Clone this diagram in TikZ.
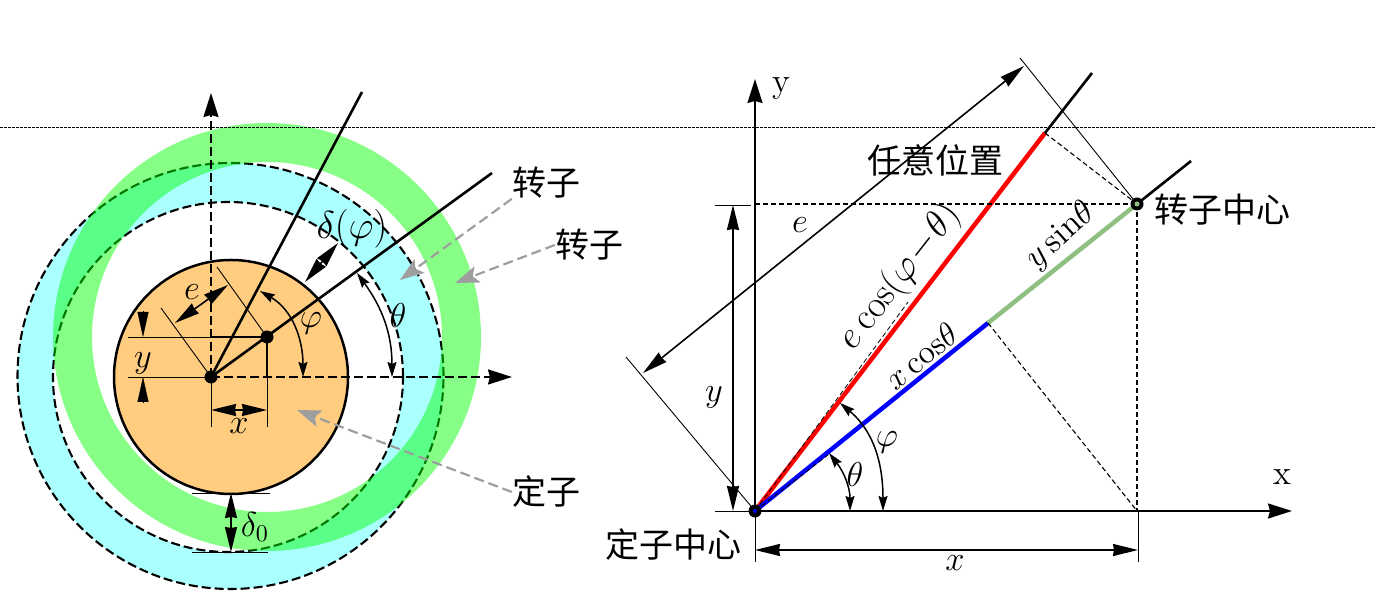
\documentclass[tikz,border=0pt]{standalone}
\usepackage{fontspec}
\usepackage{tikz}
\usetikzlibrary{arrows.meta}
\newfontfamily\cjk{Noto Sans CJK SC}
\definecolor{rotorgreen}{HTML}{90C080}
\definecolor{gapcyan}{HTML}{AAFFFF}
\definecolor{statorfill}{HTML}{FFCC80}
\tikzstyle{hanzi} = [font=\cjk\fontsize{34}{40}\selectfont, inner sep=0pt]
\tikzstyle{mathlabel} = [font=\Large, scale=2.4, inner sep=0pt]
\tikzstyle{biglabel} = [font=\LARGE, scale=2.25, inner sep=0pt]
\tikzstyle{axisline} = [line width=1.8pt, -{Stealth[length=24pt,width=15pt,inset=2pt]}]
\tikzstyle{dimline} = [line width=1.6pt, {Stealth[length=25pt,width=12pt,inset=1pt]}-{Stealth[length=25pt,width=12pt,inset=1pt]}]
\tikzstyle{anglearc} = [line width=1.5pt, {Stealth[length=15pt,width=9pt,inset=2pt]}-{Stealth[length=15pt,width=9pt,inset=2pt]}]
\tikzstyle{pointer} = [line width=2.2pt, dash pattern=on 10pt off 5pt, color=black!38, -{Stealth[length=24pt,width=17pt,inset=5pt]}]
\tikzstyle{thinline} = [line width=0.9pt]
\tikzstyle{thickline} = [line width=2.6pt]
\tikzstyle{dashcircle} = [line width=2.1pt, dash pattern=on 9pt off 4pt]
\tikzstyle{helper} = [line width=1.1pt, dash pattern=on 5pt off 3pt]
\begin{document}
\begin{tikzpicture}[x=1pt, y=1pt]
        \useasboundingbox (0,0) rectangle (1375,593);

        % left part
        \coordinate (stator)  at (231,216);
        \coordinate (outer)   at (230.5,217);
        \coordinate (inner)   at (228,216);
        \coordinate (origin1) at (211,216);
        \coordinate (rotor1)  at (267,256);

        \fill[gapcyan, even odd rule] (outer) circle (213) (inner) circle (175);
        \draw[dashcircle] (outer) circle (213);
        \draw[dashcircle] (inner) circle (175);
        \fill[green, fill opacity=0.47, even odd rule] (rotor1) circle (214) (rotor1) circle (175);
        \draw[line width=2.5pt, fill=statorfill] (stator) circle (117);

        \draw[helper, dash pattern=on 2.5pt off 1.5pt, line width=0.7pt] (0,466) -- (1375,466);

        \coordinate (y top)   at (211,500);
        \coordinate (x right) at (512,216);
        \draw[dashcircle, -{Stealth[length=24pt,width=15pt,inset=2pt]}] (origin1) -- (y top);
        \draw[dashcircle, -{Stealth[length=24pt,width=15pt,inset=2pt]}] (origin1) -- (x right);

        \coordinate (shaft a) at (492,420);
        \coordinate (shaft b) at (362,501);
        \draw[thickline] (origin1) -- (shaft a);
        \draw[thickline] (origin1) -- (shaft b);
        \draw[thickline] (origin1 -| rotor1) -- (rotor1) -- (rotor1 -| origin1);

        % dimension lines
        \coordinate (y tick a) at (128,256);
        \coordinate (y tick b) at (128,216);
        \coordinate (x tick a) at (211,166);
        \coordinate (x tick b) at (267,166);
        \coordinate (e tick a) at (161,285);
        \coordinate (e tick b) at (217,326);
        \draw[thinline] (y tick a) -- (rotor1 -| origin1);
        \draw[thinline] (y tick b) -- (origin1);
        \draw[thinline] (x tick a) -- (origin1);
        \draw[thinline] (x tick b) -- (origin1 -| rotor1);
        \draw[thinline] (e tick a) -- (origin1);
        \draw[thinline] (e tick b) -- (rotor1);

        \coordinate (x dim a) at (211,183);
        \coordinate (x dim b) at (267,183);
        \coordinate (e dim a) at (175,270);
        \coordinate (e dim b) at (228,308);
        \coordinate (gap a)   at (305,311);
        \coordinate (gap b)   at (338,350);
        \coordinate (gap0 a)  at (231,100);
        \coordinate (gap0 b)  at (231,41);
        \draw[dimline] (x dim a) -- (x dim b);
        \draw[dimline] (e dim a) -- (e dim b);
        \draw[dimline] (gap a) -- (gap b);
        \draw[dimline] (gap0 a) -- (gap0 b);
        \draw[-{Stealth[length=25pt,width=11pt,inset=0pt]}] (143,282) -- (143,256);
        \draw[-{Stealth[length=25pt,width=11pt,inset=0pt]}] (143,191) -- (143,216);
        \draw[thinline] (192,100) -- (270,100);
        \draw[thinline] (192,41) -- (268,41);

        \draw[anglearc] (260,302) to[out=-30, in=90] (303,216);
        \draw[anglearc] (357,320) to[out=-54, in=90] (392,216);

        \fill (origin1) circle (6.5);
        \fill (rotor1) circle (6.5);

        \node[mathlabel] (label y1)  at (143,230) {$y$};
        \node[mathlabel] (label x1)  at (239,167) {$x$};
        \node[mathlabel] (label e1)  at (192,301) {$e$};
        \node[mathlabel] (label phi1) at (311,270) {$\varphi$};
        \node[mathlabel] (label theta1) at (398,277) {$\theta$};
        \node[biglabel]  (label gap) at (352,364) {$\delta(\varphi)$};
        \node[mathlabel] (label gap0) at (255,66) {$\delta_0$};

        \node[hanzi] (rotor name a) at (546,410) {转子};
        \node[hanzi] (rotor name b) at (589,348) {转子};
        \node[hanzi] (stator name)  at (546,101) {定子};
        \coordinate (tip a) at (400,313);
        \coordinate (tip b) at (455,310);
        \coordinate (tip c) at (297,183);
        \draw[pointer] (rotor name a.south west) -- (tip a);
        \draw[pointer] (rotor name b.west) -- (tip b);
        \draw[pointer] (stator name.west) -- (tip c);

        % right part
        \coordinate (origin2)  at (755,82);
        \coordinate (rotor2)   at (1137,389);
        \coordinate (rotor end) at (1191,432);
        \coordinate (blue end) at (988,270);
        \coordinate (red end)  at (1045,460);
        \coordinate (black end) at (1092,520);
        \coordinate (red dash end) at (908,291);
        \coordinate (blue dash end) at (828,138);

        \coordinate (y axis top)    at (755,514);
        \coordinate (y axis bottom) at (755,31);
        \coordinate (x axis right)  at (1292,82);
        \draw[axisline] (origin2) -- (y axis top);
        \draw[thinline] (origin2) -- (y axis bottom);
        \draw[axisline] (origin2) -- (x axis right);
        \node[mathlabel] (label y axis) at (781,504) {y};
        \node[mathlabel] (label x axis) at (1282,116) {x};

        \draw[line width=4.5pt, red] (origin2) -- (red end);
        \draw[line width=4.5pt, blue] (origin2) -- (blue end);
        \draw[line width=4.5pt, rotorgreen] (blue end) -- (rotor2);
        \draw[thickline] (red end) -- (black end);
        \draw[thickline] (rotor2) -- (rotor end);

        \draw[helper, line width=0.8pt] (origin2) -- (red dash end);
        \draw[helper, line width=0.8pt] (origin2) -- (blue dash end);
        \draw[helper] (red end) -- (rotor2);
        \draw[helper] (blue end) -- (origin2 -| rotor2);
        \draw[helper] (rotor2) -- (origin2 -| rotor2);
        \draw[helper] (rotor2 -| origin2) -- (rotor2);

        \draw[thinline] (715,388) -- (751,388);
        \draw[thinline] (715,82) -- (origin2);
        \draw[thinline] (1138,82) -- (1138,31);
        \draw[thinline] (626,236) -- (origin2);
        \draw[thinline] (1020,535) -- (rotor2);

        \coordinate (y dim top) at (733,388);
        \coordinate (y dim bottom) at (733,82);
        \coordinate (x dim left) at (755,43);
        \coordinate (x dim right) at (1138,43);
        \coordinate (e dim left) at (643,220);
        \coordinate (e dim right) at (1024,527);
        \draw[dimline] (y dim top) -- (y dim bottom);
        \draw[dimline] (x dim left) -- (x dim right);
        \draw[dimline] (e dim left) -- (e dim right);

        \draw[anglearc] (840,190) to[out=-40, in=90] (883,82);
        \draw[anglearc] (829,140) to[out=-52, in=90] (850,82);

        \fill (origin2) circle (6.5);
        \fill[blue] (origin2) circle (2);
        \fill (rotor2) circle (6.5);
        \fill[rotorgreen] (rotor2) circle (2.5);

        \node[mathlabel] (label y2) at (714,196) {$y$};
        \node[mathlabel] (label x2) at (955,30) {$x$};
        \node[mathlabel] (label e2) at (800,368) {$e$};
        \node[mathlabel] (label phi2) at (887,151) {$\varphi$};
        \node[mathlabel] (label theta2) at (855,118) {$\theta$};
        \node[biglabel, scale=0.98, rotate=52] (label red)  at (900,316) {$e\cos(\varphi\!-\!\theta)$};
        \node[mathlabel, scale=0.96, rotate=39] (label blue) at (921,237) {$x\cos\!\theta$};
        \node[mathlabel, rotate=42] (label green) at (1061,357) {$y\sin\!\theta$};

        \node[hanzi] (any pos)    at (935,433) {任意位置};
        \node[hanzi] (rotor2 name) at (1222,383) {转子中心};
        \node[hanzi] (origin2 name) at (673,48) {定子中心};
    \end{tikzpicture}
\end{document}
